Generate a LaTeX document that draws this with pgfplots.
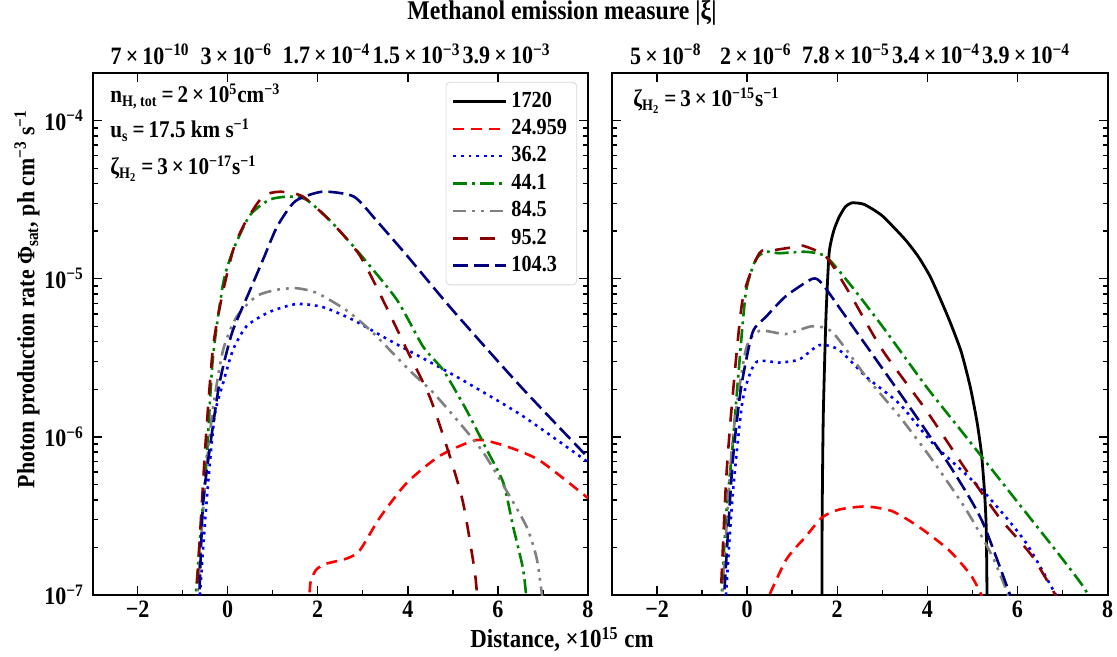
\documentclass[border=0pt]{standalone}
\usepackage{fontspec}
\setmainfont{Liberation Serif}[FakeStretch=0.88]
\usepackage{pgfplots}
\pgfplotsset{compat=1.18}
\definecolor{cred}{RGB}{255,0,0}
\definecolor{cblue}{RGB}{0,0,255}
\definecolor{cgreen}{RGB}{0,128,0}
\definecolor{cgray}{RGB}{128,128,128}
\definecolor{cdred}{RGB}{139,0,0}
\definecolor{cnavy}{RGB}{0,0,128}
\newcommand{\F}{\fontsize{12.5}{15}\selectfont\bfseries}
\tikzset{
  sred/.style={cred, line width=1.3pt, dash pattern=on 5.5pt off 3.5pt},
  sblue/.style={cblue, line width=1.3pt, dash pattern=on 1.4pt off 2.4pt},
  sgreen/.style={cgreen, line width=1.3pt, dash pattern=on 7pt off 2.5pt on 1.4pt off 2.5pt},
  sgray/.style={cgray, line width=1.3pt, dash pattern=on 6.5pt off 3pt on 1.4pt off 3pt on 1.4pt off 3pt},
  sdred/.style={cdred, line width=1.3pt, dash pattern=on 7.5pt off 6pt},
  snavy/.style={cnavy, line width=1.3pt, dash pattern=on 7.5pt off 3pt},
  sblack/.style={black, line width=1.4pt, solid},
}
\begin{document}
\F
\begin{tikzpicture}
\path[use as bounding box] (0,0) rectangle (558.5pt,328.5pt);
% ---------------- left panel ----------------
\begin{axis}[ymode=log,
    scale only axis, width=247.75pt, height=261pt, anchor=south west, at={(46.25pt,31pt)},
    ymin=1e-7, ymax=2e-4, xmin=-3, xmax=8,
    xtick={-2,0,2,4,6,8}, xticklabels={−2,0,2,4,6,8}, minor x tick num=1,
    ytick={1e-7,1e-6,1e-5,1e-4},
    minor ytick={2e-7,3e-7,4e-7,5e-7,6e-7,7e-7,8e-7,9e-7,2e-6,3e-6,4e-6,5e-6,6e-6,7e-6,8e-6,9e-6,2e-5,3e-5,4e-5,5e-5,6e-5,7e-5,8e-5,9e-5},
    tick align=inside, xtick pos=left,
    major tick length=4.5pt, minor tick length=2.5pt,
    axis line style={line width=1pt}, tick style={black, line width=0.7pt},
    tick label style={font=\F}, xticklabel style={yshift=1.5pt},
  yticklabels={10\textsuperscript{−7},10\textsuperscript{−6},10\textsuperscript{−5},10\textsuperscript{−4}},
  legend cell align=left,
  legend image code/.code={\draw[#1] (0pt,0pt) -- (26.5pt,0pt);},
  legend style={at={(0.978,0.983)}, anchor=north east, font=\fontsize{11.5}{13}\selectfont\bfseries,
    draw=black!15, rounded corners=2pt, row sep=0.6pt, inner xsep=3pt, inner ysep=3pt,
    nodes={inner sep=1.8pt}},
]
\addlegendimage{sblack}
\addlegendentry{1720}
\addplot[sred, smooth, tension=0.4] table[row sep=\\]{
x y\\ 1.80 8e-8\\ 1.84 1.2e-7\\ 1.97 1.45e-7\\ 2.20 1.58e-7\\ 2.64 1.70e-7\\ 2.93 1.91e-7\\ 3.38 3.09e-7\\ 3.98 5.13e-7\\ 4.71 7.59e-7\\ 5.53 9.55e-7\\ 6.19 8.71e-7\\ 6.93 7.08e-7\\ 8.00 4.10e-7\\
};
\addlegendentry{24.959}
\addplot[sblue, smooth, tension=0.4] table[row sep=\\]{
x y\\ -0.64 8e-8\\ -0.47 3.80e-7\\ -0.29 1.35e-6\\ -0.10 2.19e-6\\ 0.12 3.55e-6\\ 0.42 5.01e-6\\ 0.93 6.17e-6\\ 1.53 6.92e-6\\ 2.12 6.61e-6\\ 2.78 5.50e-6\\ 3.60 4.07e-6\\ 4.71 2.75e-6\\ 5.45 2.09e-6\\ 6.56 1.35e-6\\ 8.00 6.92e-7\\
};
\addlegendentry{36.2}
\addplot[sgreen, smooth, tension=0.4] table[row sep=\\]{
x y\\ -0.73 8e-8\\ -0.62 2.14e-7\\ -0.47 6.92e-7\\ -0.33 3.09e-6\\ -0.10 9.33e-6\\ 0.12 1.51e-5\\ 0.49 2.51e-5\\ 0.93 3.16e-5\\ 1.38 3.31e-5\\ 1.75 3.16e-5\\ 2.27 2.34e-5\\ 2.87 1.51e-5\\ 3.75 7.41e-6\\ 4.34 3.72e-6\\ 4.79 2.63e-6\\ 5.30 1.48e-6\\ 5.75 8.32e-7\\ 6.12 5.13e-7\\ 6.34 2.69e-7\\ 6.56 1.45e-7\\ 6.66 8e-8\\
};
\addlegendentry{44.1}
\addplot[sgray, smooth, tension=0.4] table[row sep=\\]{
x y\\ -0.69 8e-8\\ -0.50 5.13e-7\\ -0.33 1.48e-6\\ -0.10 3.55e-6\\ 0.20 5.75e-6\\ 0.64 7.76e-6\\ 1.09 8.51e-6\\ 1.53 8.71e-6\\ 1.98 8.13e-6\\ 2.64 6.31e-6\\ 3.22 4.57e-6\\ 4.04 2.63e-6\\ 4.56 1.91e-6\\ 5.23 1.15e-6\\ 5.68 7.94e-7\\ 6.19 4.57e-7\\ 6.64 2.69e-7\\ 6.87 1.66e-7\\ 7.02 8e-8\\
};
\addlegendentry{84.5}
\addplot[sdred, smooth, tension=0.4] table[row sep=\\]{
x y\\ -0.71 8e-8\\ -0.50 8.3e-7\\ -0.33 3.55e-6\\ -0.14 7.41e-6\\ 0.12 1.51e-5\\ 0.38 2.24e-5\\ 0.78 3.31e-5\\ 1.16 3.55e-5\\ 1.67 3.31e-5\\ 2.33 2.24e-5\\ 2.93 1.41e-5\\ 3.44 7.41e-6\\ 3.98 3.55e-6\\ 4.49 1.78e-6\\ 4.93 7.59e-7\\ 5.23 3.80e-7\\ 5.49 1.38e-7\\ 5.56 8e-8\\
};
\addlegendentry{95.2}
\addplot[snavy, smooth, tension=0.4] table[row sep=\\]{
x y\\ -0.64 8e-8\\ -0.55 3.63e-7\\ -0.40 8.3e-7\\ -0.18 2.19e-6\\ 0.10 4.57e-6\\ 0.50 8.51e-6\\ 0.80 1.35e-5\\ 1.10 2.14e-5\\ 1.50 3.09e-5\\ 2.10 3.55e-5\\ 2.80 3.31e-5\\ 3.30 2.34e-5\\ 4.00 1.38e-5\\ 5.00 6.31e-6\\ 6.50 2.09e-6\\ 8.00 7.41e-7\\
};
\addlegendentry{104.3}
\end{axis}
\begin{axis}[scale only axis, width=247.75pt, height=261pt, anchor=south west, at={(46.25pt,31pt)},
    xmin=-3, xmax=8, ymin=0, ymax=1, axis x line*=top, hide y axis,
    xtick={-2,0,2,4,6}, tick align=inside, major tick length=4.5pt,
    axis line style={line width=1pt}, tick style={black, line width=0.7pt},
    tick label style={font=\F},
  xticklabels={7\,×\,10\rlap{\textsuperscript{−10}},3\,×\,10\rlap{\textsuperscript{−6}},1.7\,×\,10\rlap{\textsuperscript{−4}},1.5\,×\,10\rlap{\textsuperscript{−3}},3.9\,×\,10\rlap{\textsuperscript{−3}}}]
\end{axis}
% ---------------- right panel ----------------
\begin{axis}[ymode=log,
    scale only axis, width=247.75pt, height=261pt, anchor=south west, at={(306pt,31pt)},
    ymin=1e-7, ymax=2e-4, xmin=-3, xmax=8,
    xtick={-2,0,2,4,6,8}, xticklabels={−2,0,2,4,6,8}, minor x tick num=1,
    ytick={1e-7,1e-6,1e-5,1e-4},
    minor ytick={2e-7,3e-7,4e-7,5e-7,6e-7,7e-7,8e-7,9e-7,2e-6,3e-6,4e-6,5e-6,6e-6,7e-6,8e-6,9e-6,2e-5,3e-5,4e-5,5e-5,6e-5,7e-5,8e-5,9e-5},
    tick align=inside, xtick pos=left,
    major tick length=4.5pt, minor tick length=2.5pt,
    axis line style={line width=1pt}, tick style={black, line width=0.7pt},
    tick label style={font=\F}, xticklabel style={yshift=1.5pt}, yticklabels={}]
\addplot[sblack, smooth, tension=0.35] table[row sep=\\]{
x y\\ 1.66 5e-8\\ 1.665 3e-7\\ 1.69 1.35e-6\\ 1.75 5.75e-6\\ 1.82 1.45e-5\\ 1.92 2.0e-5\\ 2.04 2.45e-5\\ 2.18 2.85e-5\\ 2.33 3.02e-5\\ 2.60 2.95e-5\\ 3.00 2.50e-5\\ 3.50 1.78e-5\\ 3.80 1.38e-5\\ 4.05 1.05e-5\\ 4.25 7.9e-6\\ 4.50 5.37e-6\\ 4.75 3.47e-6\\ 4.95 2.09e-6\\ 5.10 1.26e-6\\ 5.20 7.94e-7\\ 5.27 4.47e-7\\ 5.31 2.5e-7\\ 5.335 5e-8\\
};
\addplot[sred, smooth, tension=0.4] table[row sep=\\]{
x y\\ 0.34 8e-8\\ 0.86 1.66e-7\\ 1.30 2.34e-7\\ 1.66 3.09e-7\\ 2.04 3.47e-7\\ 2.64 3.63e-7\\ 3.22 3.39e-7\\ 3.82 2.69e-7\\ 4.49 1.91e-7\\ 5.00 1.29e-7\\ 5.36 8e-8\\
};
\addplot[sblue, smooth, tension=0.4] table[row sep=\\]{
x y\\ -0.49 8e-8\\ -0.33 3.98e-7\\ -0.10 1.70e-6\\ 0.19 2.95e-6\\ 0.71 2.95e-6\\ 1.16 3.09e-6\\ 1.60 3.80e-6\\ 2.04 3.55e-6\\ 2.64 2.40e-6\\ 3.38 1.62e-6\\ 4.12 9.12e-7\\ 5.23 4.57e-7\\ 6.19 2.14e-7\\ 7.04 8e-8\\
};
\addplot[sgreen, smooth, tension=0.4] table[row sep=\\]{
x y\\ -0.58 8e-8\\ -0.47 3.09e-7\\ -0.33 8.32e-7\\ -0.21 2.19e-6\\ -0.03 8.13e-6\\ 0.19 1.32e-5\\ 0.42 1.48e-5\\ 0.71 1.45e-5\\ 1.30 1.48e-5\\ 1.75 1.38e-5\\ 2.27 9.33e-6\\ 3.00 5.01e-6\\ 3.97 2.09e-6\\ 4.86 1.0e-6\\ 5.97 3.98e-7\\ 7.08 1.58e-7\\ 7.53 1.05e-7\\ 7.60 8e-8\\
};
\addplot[sgray, smooth, tension=0.4] table[row sep=\\]{
x y\\ -0.57 8e-8\\ -0.33 9.12e-7\\ -0.03 3.55e-6\\ 0.27 4.68e-6\\ 0.86 4.47e-6\\ 1.45 5.01e-6\\ 1.90 4.57e-6\\ 2.64 2.40e-6\\ 3.38 1.35e-6\\ 4.12 7.08e-7\\ 4.86 3.47e-7\\ 5.45 1.74e-7\\ 5.93 8e-8\\
};
\addplot[sdred, smooth, tension=0.4] table[row sep=\\]{
x y\\ -0.60 8e-8\\ -0.47 5.13e-7\\ -0.33 1.70e-6\\ -0.10 7.41e-6\\ 0.27 1.45e-5\\ 0.56 1.51e-5\\ 1.00 1.58e-5\\ 1.23 1.62e-5\\ 1.75 1.38e-5\\ 2.27 8.13e-6\\ 3.00 3.55e-6\\ 3.97 1.48e-6\\ 4.86 6.17e-7\\ 5.60 3.09e-7\\ 6.34 1.74e-7\\ 7.04 8e-8\\
};
\addplot[snavy, smooth, tension=0.4] table[row sep=\\]{
x y\\ -0.53 8e-8\\ -0.33 6.46e-7\\ -0.14 2.0e-6\\ 0.12 4.57e-6\\ 0.42 5.75e-6\\ 0.86 7.76e-6\\ 1.45 1.0e-5\\ 1.66 9.33e-6\\ 2.04 6.61e-6\\ 2.86 3.09e-6\\ 3.75 1.35e-6\\ 4.56 6.17e-7\\ 5.23 2.88e-7\\ 5.96 8e-8\\
};
\end{axis}
\begin{axis}[scale only axis, width=247.75pt, height=261pt, anchor=south west, at={(306pt,31pt)},
    xmin=-3, xmax=8, ymin=0, ymax=1, axis x line*=top, hide y axis,
    xtick={-2,0,2,4,6}, tick align=inside, major tick length=4.5pt,
    axis line style={line width=1pt}, tick style={black, line width=0.7pt},
    tick label style={font=\F},
  xticklabels={5\,×\,10\rlap{\textsuperscript{−8}},2\,×\,10\rlap{\textsuperscript{−6}},7.8\,×\,10\rlap{\textsuperscript{−5}},3.4\,×\,10\rlap{\textsuperscript{−4}},3.9\,×\,10\rlap{\textsuperscript{−4}}}]
\end{axis}
% ---------------- texts ----------------
\node[anchor=base west, inner sep=0pt, font=\fontsize{12}{14}\selectfont\bfseries] at (55pt,277pt) {n\textsubscript{H, tot}\,=\,2\,×\,10\textsuperscript{5}cm\textsuperscript{−3}};
\node[anchor=base west, inner sep=0pt, font=\fontsize{12}{14}\selectfont\bfseries] at (55pt,259.5pt) {u\textsubscript{s}\,=\,17.5 km s\textsuperscript{−1}};
\node[anchor=base west, inner sep=0pt, font=\fontsize{12}{14}\selectfont\bfseries] at (55pt,241pt) {ζ\textsubscript{H\textsubscript{2}}\,=\,3\,×\,10\textsuperscript{−17}s\textsuperscript{−1}};
\node[anchor=base west, inner sep=0pt, font=\fontsize{12}{14}\selectfont\bfseries] at (316.5pt,275pt) {ζ\textsubscript{H\textsubscript{2}}\,=\,3\,×\,10\textsuperscript{−15}s\textsuperscript{−1}};
\node[font=\fontsize{13.5}{16}\selectfont\bfseries] at (281pt,322pt) {Methanol emission measure |ξ|};
\node[anchor=base, inner sep=0pt, font=\fontsize{13}{15}\selectfont\bfseries] at (281pt,4.5pt) {Distance, ×10\textsuperscript{15} cm};
\node[rotate=90, font=\fontsize{12.4}{14}\selectfont\bfseries] at (13.5pt,179pt) {Photon production rate Φ\textsubscript{sat}, ph cm\textsuperscript{−3} s\textsuperscript{−1}};
\end{tikzpicture}
\end{document}
